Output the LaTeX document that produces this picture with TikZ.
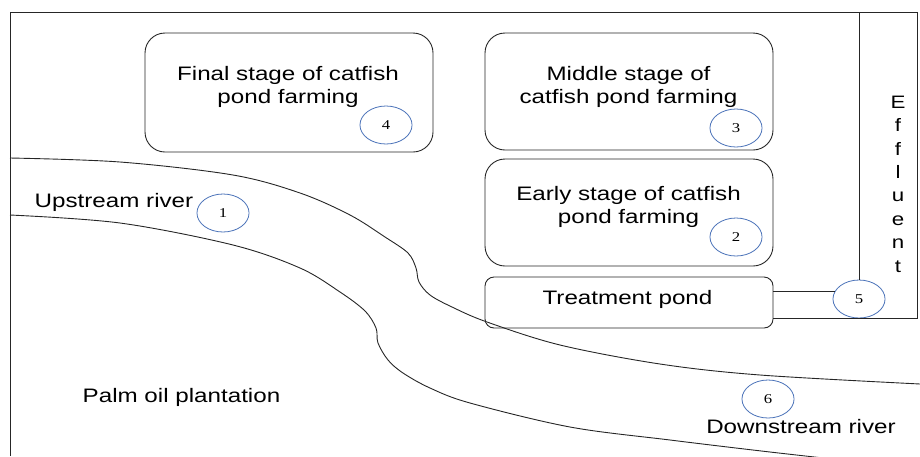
\documentclass[tikz,border=0pt]{standalone}
\usepackage{fontspec}
\setmainfont{Liberation Sans}
\newfontfamily\numfont{Liberation Serif}
\usepackage{xcolor}
\usetikzlibrary{positioning,calc,shapes.geometric}
\definecolor{spotblue}{HTML}{4A72B8}
\tikzset{
    pond/.style={draw=black!85, line width=0.9pt, rounded corners=20pt, inner sep=0pt},
    lbl/.style={font=\fontsize{19.5}{23}\selectfont, align=center, xscale=1.24, inner sep=0pt},
    spot/.style={ellipse, draw=spotblue, line width=0.8pt, minimum width=42pt, minimum height=38pt, inner sep=0pt, xscale=1.24, font=\numfont\fontsize{13.5}{14}\selectfont},
    bank/.style={line width=0.9pt, draw=black!85}
}

\begin{document}
\begin{tikzpicture}[x=1pt, y=-1pt]
    \useasboundingbox (0,0) rectangle (920,456);

    \node[pond, minimum width=288pt, minimum height=119pt] (final) at (289,92.5) {};
    \node[pond, minimum width=288pt, minimum height=117pt] (middle) at (629,91.5) {};
    \node[pond, minimum width=288pt, minimum height=107pt] (early) at (629,212.5) {};
    \node[pond, rounded corners=9pt, minimum width=288pt, minimum height=51pt] (treat) at (629,302.5) {};

    \node[lbl] (finaltxt) at (288,86.5) {Final stage of catfish\\pond farming};
    \node[lbl] (middletxt) at (628.5,86.5) {Middle stage of\\catfish pond farming};
    \node[lbl] (earlytxt) at (628.5,206.5) {Early stage of catfish\\pond farming};
    \node[lbl, anchor=base] (treattxt) at (627.5,304) {Treatment pond};
    \node[lbl, anchor=base] (uptxt) at (114,207) {Upstream river};
    \node[lbl, anchor=base] (palmtxt) at (181.5,402) {Palm oil plantation};
    \node[lbl, anchor=base] (downtxt) at (801,433) {Downstream river};
    \node[lbl, font=\fontsize{18}{23.4}\selectfont] (effluent) at (898,184) {E\\f\\f\\l\\u\\e\\n\\t};

    \node[spot] (s1) at (223,213) {1};
    \node[spot] (s2) at (736,237) {2};
    \node[spot] (s3) at (736,128) {3};
    \node[spot] (s4) at (386,125) {4};
    \node[spot] (s5) at (859,299) {5};
    \node[spot] (s6) at (768,399) {6};

    \draw[bank] plot[smooth, tension=0.55] coordinates {(10,158) (120,162) (233,175) (300,193) (350,215) (385,237) (408,253) (416,268) (419,282) (430,295) (452,307) (487,322) (560,345) (660,364) (760,375) (920,384)};
    \draw[bank] plot[smooth, tension=0.55] coordinates {(10,215) (120,223) (233,245) (300,268) (340,292) (365,311) (376,328) (378,343) (388,360) (403,373) (430,388) (470,403) (570,427) (670,440) (770,452) (860,462)};

    \draw[line width=0.9pt, black!85] (10,456) -- (10,12) -- (917,12) -- (917,318) -- (treat.east |- 0,318);
    \draw[line width=0.9pt, black!85] (859,12) -- (s5.north);
    \draw[line width=0.9pt, black!85] (s5.158) -- (s5.158 -| treat.east);
\end{tikzpicture}
\end{document}
